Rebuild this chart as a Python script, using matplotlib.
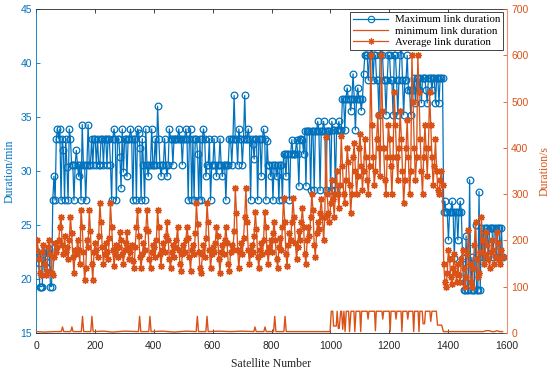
import numpy as np
import matplotlib
matplotlib.use("Agg")
import matplotlib.pyplot as plt
from matplotlib.lines import Line2D

# ---------------- data ----------------
sat_step = 4  # satellites sampled every 4 numbers, starting at 1

max_link_min = [
    22.6, 22.0, 21.5, 19.3, 19.3, 19.3, 22.3, 22.8, 21.6, 21.0, 22.5, 22.8, 19.3, 19.3, 27.3, 29.5, 27.3, 33.0, 33.9, 33.0,
    33.9, 27.3, 33.0, 31.9, 27.3, 33.0, 30.4, 27.3, 33.9, 33.0, 30.6, 30.6, 27.3, 30.6, 31.9, 30.6, 29.5, 30.6, 27.3, 34.3,
    30.6, 30.6, 27.3, 30.6, 34.3, 30.6, 30.6, 33.0, 30.6, 33.0, 33.0, 30.6, 33.0, 30.6, 30.6, 33.0, 33.0, 30.6, 33.0, 33.0,
    30.6, 33.0, 33.0, 30.6, 27.3, 33.0, 33.9, 33.0, 27.3, 33.0, 33.0, 31.3, 28.4, 33.9, 29.9, 33.0, 33.0, 29.5, 33.0, 33.0,
    33.9, 33.0, 27.3, 33.0, 33.0, 27.3, 33.9, 33.5, 32.1, 27.3, 33.0, 30.6, 27.3, 33.9, 30.6, 29.5, 30.6, 30.6, 33.9, 30.6,
    30.6, 33.0, 30.6, 36.0, 33.0, 30.6, 29.5, 30.6, 30.6, 33.0, 30.6, 29.5, 30.6, 33.9, 33.0, 33.0, 30.6, 33.0, 33.0, 33.0,
    33.0, 33.9, 33.0, 33.0, 30.6, 33.0, 33.0, 33.9, 33.0, 27.3, 33.0, 33.9, 27.3, 33.0, 27.3, 33.0, 33.0, 31.6, 27.3, 33.0,
    27.3, 33.0, 33.9, 33.0, 29.5, 30.6, 30.6, 33.0, 27.3, 30.6, 30.6, 33.0, 30.6, 29.5, 30.6, 30.6, 33.0, 30.6, 29.5, 30.6,
    30.6, 27.3, 30.6, 30.6, 33.0, 33.0, 30.6, 33.0, 37.0, 33.0, 33.0, 30.6, 33.9, 33.0, 33.0, 30.6, 33.0, 37.0, 33.0, 33.0,
    33.9, 33.0, 27.3, 33.0, 32.5, 31.1, 33.0, 33.0, 27.3, 33.0, 33.0, 29.5, 33.0, 33.9, 33.0, 27.3, 32.8, 30.6, 30.6, 29.5,
    30.6, 27.3, 30.6, 30.6, 29.5, 30.6, 27.3, 30.6, 30.6, 27.3, 31.6, 31.6, 29.5, 31.6, 31.6, 27.3, 31.6, 32.9, 31.6, 31.6,
    31.6, 32.9, 31.6, 28.6, 33.0, 33.0, 32.9, 31.6, 33.7, 28.6, 33.7, 33.7, 33.7, 28.2, 33.7, 33.7, 28.2, 33.7, 33.7, 34.6,
    33.7, 28.2, 33.7, 33.7, 34.6, 33.7, 28.2, 33.7, 33.7, 33.7, 28.2, 34.6, 33.8, 33.8, 28.2, 33.8, 33.8, 34.6, 33.8, 33.8,
    36.7, 36.7, 33.8, 36.7, 37.7, 36.7, 36.7, 35.6, 36.7, 39.0, 36.7, 33.8, 36.7, 37.7, 36.7, 36.7, 35.6, 36.7, 39.0, 40.7,
    40.7, 40.7, 38.4, 40.7, 40.7, 42.0, 38.4, 40.7, 40.7, 38.4, 38.4, 35.2, 40.7, 42.0, 40.7, 38.4, 38.4, 35.2, 38.4, 40.7,
    40.7, 38.4, 38.4, 35.2, 40.7, 40.7, 38.4, 35.2, 38.4, 40.7, 42.0, 38.4, 35.2, 38.4, 38.4, 40.7, 37.5, 37.5, 35.2, 37.5,
    37.5, 38.6, 36.3, 38.6, 38.6, 37.5, 38.6, 36.3, 38.6, 38.6, 38.6, 37.5, 36.3, 38.6, 38.6, 38.6, 37.5, 38.6, 38.6, 36.3,
    38.6, 38.6, 36.3, 38.6, 38.6, 38.6, 26.2, 27.2, 26.2, 26.2, 23.6, 26.2, 26.2, 27.2, 26.2, 21.9, 26.2, 26.2, 23.6, 26.2,
    27.2, 26.2, 21.9, 19.0, 19.0, 24.0, 19.0, 19.0, 29.2, 19.0, 22.0, 19.0, 19.0, 25.0, 19.0, 19.0, 28.1, 19.0, 24.7, 22.0,
    24.7, 22.0, 24.7, 24.7, 22.0, 24.7, 24.7, 24.7, 22.0, 24.7, 24.7, 22.0, 24.7, 24.7, 22.0, 24.7, 22.0,
]

avg_link_s = [
    180, 200, 160, 130, 125, 175, 190, 150, 125, 135, 185, 200, 170, 130, 125, 165, 195, 175, 185, 200,
    230, 251, 190, 170, 210, 175, 185, 160, 200, 251, 215, 165, 130, 180, 170, 200, 180, 150, 266, 230,
    175, 115, 140, 200, 185, 266, 220, 150, 115, 175, 195, 180, 165, 210, 280, 240, 185, 150, 170, 195,
    175, 160, 205, 280, 230, 180, 145, 170, 190, 165, 185, 219, 200, 170, 150, 180, 195, 219, 185, 160,
    175, 190, 155, 140, 185, 230, 266, 210, 165, 140, 170, 195, 180, 225, 266, 220, 160, 140, 175, 190,
    185, 165, 200, 266, 230, 170, 145, 180, 195, 175, 210, 240, 200, 160, 140, 175, 190, 165, 185, 200,
    230, 180, 150, 135, 170, 190, 175, 200, 230, 205, 165, 135, 180, 190, 170, 215, 280, 235, 175, 140,
    130, 170, 190, 165, 205, 280, 240, 180, 140, 170, 185, 175, 195, 230, 210, 160, 130, 175, 190, 170,
    200, 230, 195, 150, 135, 175, 190, 180, 220, 313, 260, 180, 140, 175, 195, 170, 205, 250, 313, 240,
    180, 150, 170, 190, 175, 210, 262, 225, 165, 140, 180, 195, 170, 200, 262, 230, 175, 150, 185, 200,
    175, 215, 240, 200, 160, 140, 185, 205, 180, 230, 291, 240, 170, 145, 190, 215, 200, 240, 291, 250,
    195, 160, 185, 220, 200, 240, 270, 230, 170, 150, 200, 230, 210, 250, 300, 265, 190, 165, 215, 240,
    225, 260, 290, 250, 200, 250, 424, 300, 260, 240, 280, 330, 290, 250, 300, 350, 300, 270, 320, 425,
    360, 300, 280, 330, 400, 370, 320, 260, 300, 380, 410, 350, 300, 340, 400, 430, 360, 310, 350, 420,
    380, 330, 300, 360, 600, 450, 380, 320, 350, 420, 470, 400, 340, 600, 480, 400, 330, 300, 380, 450,
    420, 360, 300, 380, 520, 450, 380, 330, 400, 480, 420, 350, 280, 330, 400, 460, 380, 300, 350, 600,
    500, 400, 330, 380, 600, 520, 420, 350, 300, 380, 450, 400, 340, 400, 520, 450, 380, 320, 360, 420,
    350, 310, 300, 330, 350, 320, 150, 110, 100, 130, 180, 160, 120, 105, 140, 170, 130, 110, 150, 125,
    110, 160, 180, 140, 100, 120, 170, 222, 150, 110, 100, 140, 190, 240, 160, 120, 130, 175, 250, 200,
    150, 170, 218, 190, 160, 140, 175, 200, 180, 150, 165, 218, 195, 160, 150, 180, 165,
]

min_sat = [1, 30, 60, 86, 90, 94, 118, 122, 126, 154, 158, 162, 186, 190, 194,
           230, 260, 300, 348, 352, 356, 383, 387, 391, 430, 470, 510,
           544, 548, 552, 577, 581, 585, 620, 660, 700, 740, 744, 748,
           774, 778, 782, 807, 811, 815, 842, 846, 850, 900, 950, 999,
           1003, 1008, 1011, 1020, 1023, 1027, 1030, 1035, 1038, 1042, 1046,
           1050, 1054, 1062, 1065, 1070, 1080, 1083, 1087, 1100, 1103, 1106,
           1125, 1128, 1131, 1150, 1153, 1156, 1175, 1178, 1181, 1200, 1203,
           1206, 1220, 1223, 1226, 1240, 1243, 1246, 1260, 1263, 1266, 1280,
           1283, 1286, 1298, 1301, 1304, 1312, 1315, 1320, 1323, 1338, 1341,
           1345, 1360, 1364, 1378, 1384, 1450, 1520, 1528, 1540, 1548, 1558,
           1565, 1575, 1585]
min_s = [3, 2, 3, 3, 13, 3, 3, 13, 3, 3, 36, 3, 3, 36, 3,
         4, 2, 4, 3, 36, 3, 3, 36, 3, 4, 2, 4,
         3, 36, 3, 3, 36, 3, 4, 3, 4, 3, 13, 3,
         3, 13, 3, 3, 36, 3, 3, 36, 3, 3, 3, 3,
         47, 47, 15, 15, 47, 10, 10, 47, 47, 8, 47,
         3, 47, 47, 3, 47, 47, 3, 47, 47, 3, 47,
         47, 30, 47, 47, 5, 47, 47, 30, 47, 47, 3,
         47, 47, 30, 47, 47, 3, 47, 47, 30, 47, 47,
         3, 47, 47, 3, 47, 47, 20, 20, 47, 47, 25,
         47, 47, 17, 17, 3, 3, 3, 5, 5, 3, 3,
         5, 3, 3]

x_ticks = [0, 200, 400, 600, 800, 1000, 1200, 1400, 1600]
left_ticks = [15, 20, 25, 30, 35, 40, 45]
right_ticks = [0, 100, 200, 300, 400, 500, 600, 700]

# ---------------- plotting ----------------
BLUE = "#0072BD"
ORANGE = "#D95319"
SERIF = ["Liberation Serif", "DejaVu Serif"]
SANS = ["Liberation Sans", "DejaVu Sans"]
plt.rcParams["font.family"] = SANS

fig = plt.figure(figsize=(5.5, 3.7), dpi=100)
ax = fig.add_axes([36 / 550, 37 / 370, 471 / 550, 324 / 370])
ax2 = ax.twinx()

sat_max = 1 + sat_step * np.arange(len(max_link_min))
sat_avg = 1 + sat_step * np.arange(len(avg_link_s))

ast = (8, 2, 0)

ax.plot(sat_max, max_link_min, color=BLUE, lw=0.9, marker="o",
        markersize=4.8, markerfacecolor="none", markeredgewidth=0.9)
ax2.plot(min_sat, min_s, color=ORANGE, lw=1.0)
ax2.plot(sat_avg, avg_link_s, color=ORANGE, lw=0.95, marker=ast,
         markersize=5.0, markeredgewidth=0.9)

ax.set_xlim(0, 1600)
ax.set_ylim(15, 45)
ax2.set_ylim(0, 700)
ax.set_xticks(x_ticks)
ax.set_yticks(left_ticks)
ax2.set_yticks(right_ticks)

ax.tick_params(axis="x", direction="in", top=True, length=3, width=0.6,
               colors="#262626", labelsize=7.5, pad=6)
ax.tick_params(axis="y", direction="in", length=3, width=0.6,
               colors=BLUE, labelsize=7.5, pad=3)
ax2.tick_params(axis="y", direction="in", length=3, width=0.6,
                colors=ORANGE, labelsize=7.5, pad=3)

for sp in ["top", "bottom"]:
    ax.spines[sp].set_color("#262626")
    ax.spines[sp].set_linewidth(0.6)
    ax2.spines[sp].set_visible(False)
ax.spines["left"].set_color(BLUE)
ax.spines["left"].set_linewidth(0.6)
ax.spines["right"].set_visible(False)
ax2.spines["left"].set_visible(False)
ax2.spines["right"].set_color("#E8956F")
ax2.spines["right"].set_linewidth(0.8)

ax.set_ylabel("Duration/min", family=SERIF, fontsize=8.5, color=BLUE, labelpad=3)
ax2.set_ylabel("Duration/s", family=SERIF, fontsize=8.5, color=ORANGE, labelpad=7)
ax.set_xlabel("Satellite Number", family=SERIF, fontsize=8.5, color="#262626", labelpad=5)

h1 = Line2D([], [], color=BLUE, lw=0.9, marker="o", markersize=4.6,
            markerfacecolor="none", markeredgewidth=0.8)
h2 = Line2D([], [], color=ORANGE, lw=0.9)
h3 = Line2D([], [], color=ORANGE, lw=0.9, marker=ast, markersize=4.5, markeredgewidth=0.8)
leg = ax2.legend([h1, h2, h3],
                 ["Maximum link duration", "minimum link duration", "Average link duration"],
                 loc="upper right", bbox_to_anchor=(0.992, 0.992),
                 prop={"family": SERIF, "size": 7.8},
                 frameon=True, fancybox=False, framealpha=1, edgecolor="#262626",
                 borderpad=0.3, labelspacing=0.15, handlelength=3.2, handletextpad=0.6,
                 borderaxespad=0.0)
leg.get_frame().set_linewidth(0.6)

fig.savefig("out.png", dpi=100)
